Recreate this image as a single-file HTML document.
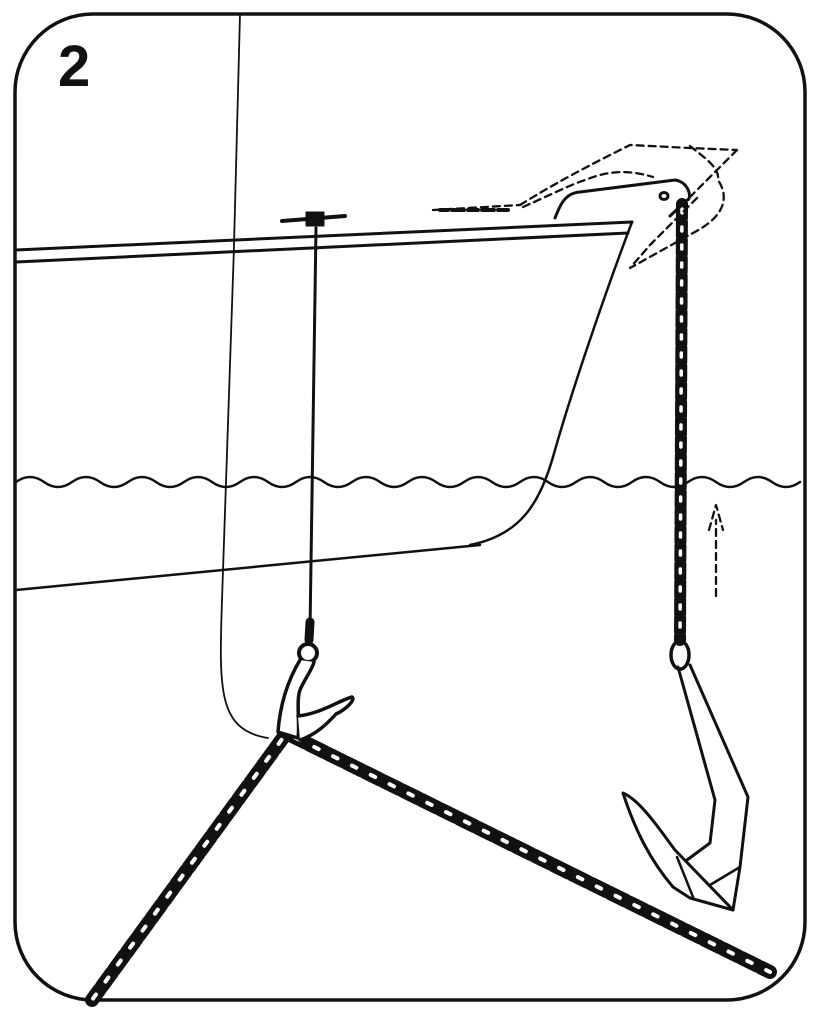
<!DOCTYPE html>
<html><head><meta charset="utf-8"><style>html,body{margin:0;padding:0;background:#fff}svg{display:block}</style></head><body>
<svg width="819" height="1024" viewBox="0 0 819 1024" xmlns="http://www.w3.org/2000/svg" fill="none" stroke="#111" stroke-linecap="round" stroke-linejoin="round">
<rect x="15" y="14" width="790" height="986" rx="78" stroke-width="3.5"/>
<text x="58" y="86" font-family="Liberation Sans, sans-serif" font-weight="bold" font-size="58" fill="#111" stroke="none">2</text>
<!-- deck lines -->
<path d="M16 250 L632 222" stroke-width="3"/>
<path d="M16 262 L628 233" stroke-width="3"/>
<!-- bow -->
<path d="M632 222 C610 280 575 380 555 450 C540 505 520 535 470 545" stroke-width="2.5"/>
<path d="M16 590 L480 545" stroke-width="2.5"/>
<!-- waterline -->
<path d="M16 482 q14 -10 28 0 t28 0 t28 0 t28 0 t28 0 t28 0 t28 0 t28 0 t28 0 t28 0 t28 0 t28 0 t28 0 t28 0 t28 0 t28 0 t28 0 t28 0 t28 0 t28 0 t28 0 t28 0 t28 0 t28 0 t28 0 t28 0 t28 0 t28 0" stroke-width="2.5"/>
<!-- vertical rope -->
<path d="M240 14 C236 200 228 450 222 600 C219 690 218 730 268 738" stroke-width="1.8"/>
<!-- cleat and rod -->
<path d="M282 221 L345 216" stroke-width="4"/>
<rect x="306" y="212" width="18" height="14" fill="#111"/>
<path d="M316 228 L310 630" stroke-width="3"/>
<!-- chains -->
<g>
<path d="M285 735 L92 1000" stroke="#111" stroke-width="14" stroke-dasharray="17 4"/>
<path d="M285 735 L92 1000" stroke="#fff" stroke-width="4" stroke-dasharray="5 16" stroke-dashoffset="-6"/>
<path d="M290 735 L770 972" stroke="#111" stroke-width="14" stroke-dasharray="17 4"/>
<path d="M290 735 L770 972" stroke="#fff" stroke-width="4" stroke-dasharray="5 16" stroke-dashoffset="-6"/>
<path d="M682 204 L680 640" stroke="#111" stroke-width="12" stroke-dasharray="14 4"/>
<path d="M682 204 L680 640" stroke="#fff" stroke-width="3.5" stroke-dasharray="4 14" stroke-dashoffset="-5"/>
<path d="M310 622 L309 640" stroke-width="9"/>
</g>
<!-- hook -->
<circle cx="308" cy="653" r="9" stroke-width="4"/>
<path d="M300 660 C288 680 280 705 278 732 L298 738 C300 725 296 700 300 690 C304 680 312 670 314 662" stroke-width="3.5" fill="#fff"/>
<path d="M298 716 C320 714 340 700 352 697 C356 700 345 710 336 714 C326 725 315 735 300 740" stroke-width="3.5" fill="#fff"/>
<!-- bow roller -->
<path d="M555 218 C560 205 565 193 580 192 L675 180 C690 182 692 200 687 200 L670 216" stroke-width="3"/>
<ellipse cx="664" cy="196" rx="4" ry="3.5" stroke-width="3"/>
<!-- dashed ghost anchor -->
<g stroke-dasharray="7 5" stroke-width="2.3">
<path d="M433 210 L520 205"/>
<path d="M520 205 C560 180 600 160 630 145 L690 148 L737 150"/>
<path d="M737 150 L687 200"/>
<path d="M690 146 C705 158 720 168 718 180 C728 195 728 215 693 233 L630 268 L650 245 L700 195"/>
<path d="M523 207 C550 195 570 185 585 180 C610 170 630 170 653 177"/>
<path d="M716 596 L716 520 M709 530 L716 505 L723 530"/>
</g>
<path d="M440 210 h8 M452 210 h12 M468 210 h10 M482 210 h12 M498 210 h10" stroke-width="4"/>
<!-- anchor -->
<ellipse cx="680" cy="655" rx="9" ry="14" stroke-width="3.5"/>
<path d="M678 667 L715 800 L710 843 L687 860" stroke-width="3"/>
<path d="M690 665 L748 797 L740 867 L733 910" stroke-width="3"/>
<path d="M623 793 C640 800 660 830 675 850 L733 910 L690 898 L673 887 C650 860 635 830 623 793 Z" stroke-width="3"/>
<path d="M677 857 L693 897" stroke-width="2.5"/>
<path d="M710 885 L740 867" stroke-width="2.5"/>
</svg>
</body></html>
